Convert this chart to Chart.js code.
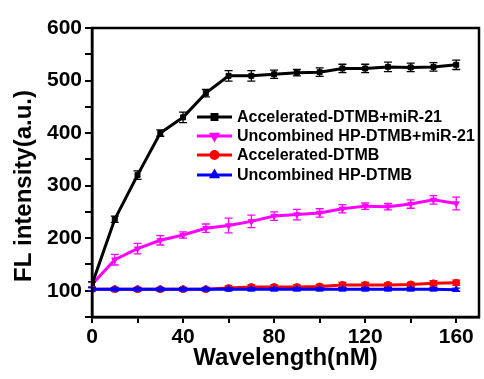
<!DOCTYPE html>
<html>
<head>
<meta charset="utf-8">
<script src="https://cdn.jsdelivr.net/npm/chart.js@4.4.0/dist/chart.umd.min.js"></script>
<style>
  body { margin: 0; background: #fff; }
  #wrap { width: 484px; height: 379px; }
</style>
</head>
<body>
<div id="wrap"><canvas id="flChart" width="484" height="379"></canvas></div>
<script>
// concentrations (x axis)
const wavelengths = [0, 10, 20, 30, 40, 50, 60, 70, 80, 90, 100, 110, 120, 130, 140, 150, 160];

const accelMir = [112, 236, 320, 400, 430, 476, 509, 509, 512, 515, 516, 523, 523, 526, 525, 526, 530];
const accelMirErr = [5, 6, 8, 6, 10, 7, 10, 10, 8, 6, 8, 8, 8, 9, 8, 8, 9];

const uncombMir = [112, 159, 180, 196, 206, 219, 224, 232, 242, 245, 248, 256, 261, 260, 265, 273, 266];
const uncombMirErr = [5, 10, 10, 9, 6, 8, 14, 12, 8, 10, 8, 8, 6, 6, 8, 8, 12];

const accel = [103, 103, 103, 103, 103, 103, 105, 107, 107, 107, 108, 111, 111, 111, 112, 114, 115];
const accelErr = [3, 3, 3, 3, 3, 3, 4, 4, 4, 4, 4, 5, 5, 4, 4, 5, 5];

const uncomb = [103, 103, 103, 103, 103, 103, 103, 103, 103, 103, 103, 103, 103, 103, 103, 103, 102];
const uncombErr = [3, 3, 3, 3, 3, 3, 3, 3, 3, 3, 3, 3, 3, 3, 3, 3, 3];

const seriesNames = ['Accelerated-DTMB+miR-21', 'Uncombined HP-DTMB+miR-21', 'Accelerated-DTMB', 'Uncombined HP-DTMB'];

const yTicks = [100, 200, 300, 400, 500, 600];
const xTicks = [0, 40, 80, 120, 160];
const xMinorTicks = [0, 20, 40, 60, 80, 100, 120, 140, 160];

const FONT = 'Arial, "Liberation Sans", sans-serif';

function toPoints(values) {
    return values.map((v, i) => ({ x: wavelengths[i], y: v }));
}

// error bars drawn per dataset, right after its line
const errorBars = {
    id: 'errorBars',
    afterDatasetDraw(chart, args) {
        const ds = chart.data.datasets[args.index];
        if (!ds.errors) return;
        const ctx = chart.ctx;
        const yScale = chart.scales.y;
        ctx.save();
        ctx.strokeStyle = ds.borderColor;
        ctx.lineWidth = 1.3;
        args.meta.data.forEach((pt, i) => {
            const v = ds.data[i].y;
            const top = yScale.getPixelForValue(v + ds.errors[i]);
            const bot = yScale.getPixelForValue(v - ds.errors[i]);
            ctx.beginPath();
            ctx.moveTo(pt.x, top);
            ctx.lineTo(pt.x, bot);
            ctx.moveTo(pt.x - 4, top);
            ctx.lineTo(pt.x + 4, top);
            ctx.moveTo(pt.x - 4, bot);
            ctx.lineTo(pt.x + 4, bot);
            ctx.stroke();
        });
        ctx.restore();
    }
};

// frame, axis titles and the legend box
const frameAndText = {
    id: 'frameAndText',
    afterDraw(chart) {
        const ctx = chart.ctx;
        const a = chart.chartArea;
        ctx.save();
        ctx.strokeStyle = '#000';
        ctx.lineWidth = 2.5;
        ctx.strokeRect(a.left, a.top, a.right - a.left, a.bottom - a.top);

        ctx.fillStyle = '#000';
        ctx.font = 'bold 24px ' + FONT;
        ctx.textAlign = 'center';
        ctx.textBaseline = 'middle';
        ctx.fillText('Wavelength(nM)', (a.left + a.right) / 2, 358);

        ctx.translate(24, 186);
        ctx.rotate(-Math.PI / 2);
        ctx.fillText('FL intensity(a.u.)', 0, 0);
        ctx.restore();

        // legend
        ctx.save();
        ctx.font = 'bold 16px ' + FONT;
        ctx.textAlign = 'left';
        ctx.textBaseline = 'middle';
        const rows = [117, 136, 155, 175];
        chart.data.datasets.forEach((ds, i) => {
            const y = rows[i];
            ctx.strokeStyle = ds.borderColor;
            ctx.lineWidth = 3;
            ctx.beginPath();
            ctx.moveTo(197, y);
            ctx.lineTo(232, y);
            ctx.stroke();
            ctx.fillStyle = ds.borderColor;
            Chart.helpers.drawPoint(ctx, {
                pointStyle: ds.pointStyle,
                radius: ds.pointRadius,
                rotation: ds.pointRotation || 0,
                borderWidth: 1
            }, 214.5, y);
            ctx.fillStyle = '#000';
            ctx.fillText(seriesNames[i], 237, y + 1);
        });
        ctx.restore();
    }
};

function makeSet(i, values, errs, color, style, rotation, order) {
    return {
        label: seriesNames[i],
        data: toPoints(values),
        errors: errs,
        borderColor: color,
        backgroundColor: color,
        borderWidth: 3,
        pointStyle: style,
        pointRotation: rotation,
        pointRadius: 3.5,
        pointBorderWidth: 1,
        tension: 0,
        order: order
    };
}

const ctx = document.getElementById('flChart').getContext('2d');
new Chart(ctx, {
    type: 'line',
    data: {
        datasets: [
            makeSet(0, accelMir, accelMirErr, '#000000', 'rect', 0, 2),
            makeSet(1, uncombMir, uncombMirErr, '#ff00ff', 'triangle', 180, 3),
            makeSet(2, accel, accelErr, '#ff0000', 'circle', 0, 1),
            makeSet(3, uncomb, uncombErr, '#0000ff', 'triangle', 0, 0)
        ]
    },
    options: {
        responsive: false,
        animation: false,
        layout: { padding: { top: 28, right: 3, left: 0, bottom: 0 } },
        plugins: { legend: { display: false }, tooltip: { enabled: false } },
        scales: {
            x: {
                type: 'linear',
                min: 0,
                max: 170,
                afterBuildTicks: scale => {
                    scale.ticks = xMinorTicks.map(v => ({ value: v }));
                },
                afterFit: scale => { scale.height = 62; },
                ticks: {
                    color: '#000',
                    padding: 2,
                    maxRotation: 0,
                    autoSkip: false,
                    font: { family: FONT, size: 21, weight: 'bold' },
                    callback: v => xTicks.includes(v) ? String(v) : ''
                },
                grid: { drawOnChartArea: false, color: '#000', lineWidth: 2, tickLength: 6 },
                border: { display: true, color: '#000', width: 2.5 }
            },
            y: {
                type: 'linear',
                min: 50,
                max: 600,
                afterFit: scale => { scale.width = 92; },
                ticks: {
                    stepSize: 50,
                    color: '#000',
                    padding: 3,
                    autoSkip: false,
                    font: { family: FONT, size: 21, weight: 'bold' },
                    callback: v => yTicks.includes(v) ? String(v) : ''
                },
                grid: { drawOnChartArea: false, color: '#000', lineWidth: 2, tickLength: 7 },
                border: { display: true, color: '#000', width: 2.5 }
            }
        }
    },
    plugins: [errorBars, frameAndText]
});
</script>
</body>
</html>
